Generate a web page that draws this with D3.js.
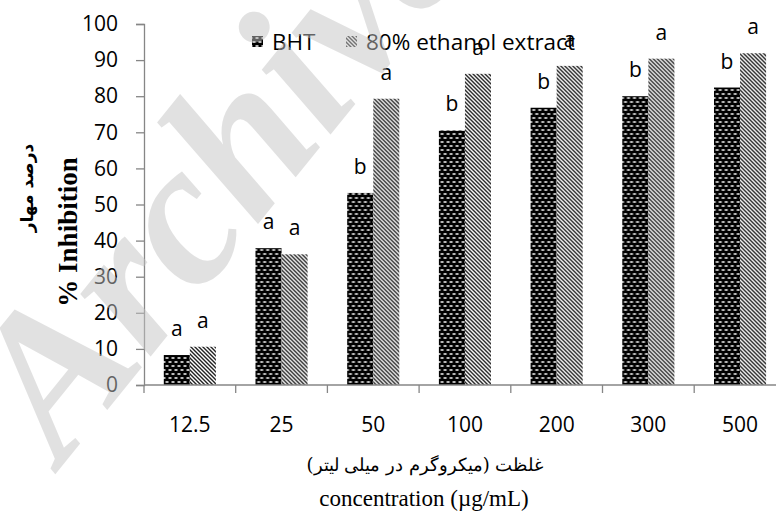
<!DOCTYPE html>
<html>
<head>
<meta charset="utf-8">
<script src="https://cdn.jsdelivr.net/npm/d3@7"></script>
<style>
  body { margin: 0; background: #fff; }
  text { font-family: "Open Sans", sans-serif; }
</style>
</head>
<body>
<script>
const concentrations = ["12.5", "25", "50", "100", "200", "300", "500"];
const seriesNames = ["BHT", "80% ethanol extract"];
const bhtValues = [8.3, 37.9, 53.2, 70.5, 76.8, 80.0, 82.4];
const ethanolValues = [10.6, 36.2, 79.3, 86.2, 88.4, 90.4, 91.9];
const bhtLetters = ["a", "a", "b", "b", "b", "b", "b"];
const ethanolLetters = ["a", "a", "a", "a", "a", "a", "a"];
const yTicks = [0, 10, 20, 30, 40, 50, 60, 70, 80, 90, 100];

const width = 776, height = 512;
const axisColor = "#868686";

const svg = d3.select("body").append("svg")
    .attr("width", width)
    .attr("height", height);

const defs = svg.append("defs");

// BHT: black with small white dashes (brick layout)
const pBht = defs.append("pattern")
    .attr("id", "pat-bht")
    .attr("patternUnits", "userSpaceOnUse")
    .attr("width", 6).attr("height", 8);
pBht.append("rect").attr("width", 6).attr("height", 8).attr("fill", "#000");
pBht.append("rect").attr("x", 0.5).attr("y", 1.2).attr("width", 3).attr("height", 1.6).attr("fill", "#e8e8e8");
pBht.append("rect").attr("x", 3.5).attr("y", 5.2).attr("width", 3).attr("height", 1.6).attr("fill", "#e8e8e8");
pBht.append("rect").attr("x", -2.5).attr("y", 5.2).attr("width", 3).attr("height", 1.6).attr("fill", "#e8e8e8");

// ethanol extract: wide downward diagonal
const pEth = defs.append("pattern")
    .attr("id", "pat-eth")
    .attr("patternUnits", "userSpaceOnUse")
    .attr("width", 4).attr("height", 4);
pEth.append("rect").attr("width", 4).attr("height", 4).attr("fill", "#fff");
pEth.append("path")
    .attr("d", "M-1,-1 L5,5 M-1,3 L1,5 M3,-1 L5,1")
    .attr("stroke", "#222").attr("stroke-width", 1.4);

const fills = ["url(#pat-bht)", "url(#pat-eth)"];

const x0 = d3.scaleBand()
    .domain(concentrations)
    .range([144, 144 + 7 * 91.7]);

const x1 = d3.scaleBand()
    .domain(seriesNames)
    .range([0, x0.bandwidth()])
    .paddingInner(0)
    .paddingOuter(0.76);

const y = d3.scaleLinear()
    .domain([0, 100])
    .range([385, 24]);

const rows = concentrations.map((c, i) => ({
    conc: c,
    vals: [
        { key: seriesNames[0], value: bhtValues[i], letter: bhtLetters[i] },
        { key: seriesNames[1], value: ethanolValues[i], letter: ethanolLetters[i] }
    ]
}));

// y axis
const yAxis = svg.append("g")
    .attr("transform", "translate(144,0)")
    .call(d3.axisLeft(y).tickValues(yTicks).tickSize(8).tickPadding(18));
yAxis.select(".domain").attr("stroke", axisColor).attr("stroke-width", 1.3);
yAxis.selectAll(".tick line").attr("stroke", axisColor).attr("stroke-width", 1.3);
yAxis.selectAll(".tick text")
    .attr("fill", "#000")
    .style("font-family", "'Open Sans', sans-serif")
    .style("font-size", "21px");

// bars
const groups = svg.append("g").selectAll("g")
    .data(rows)
    .join("g")
    .attr("transform", d => `translate(${x0(d.conc)},0)`);

groups.selectAll("rect")
    .data(d => d.vals)
    .join("rect")
    .attr("x", d => x1(d.key))
    .attr("y", d => y(d.value))
    .attr("width", x1.bandwidth())
    .attr("height", d => y(0) - y(d.value))
    .attr("fill", (d, i) => fills[i]);

groups.selectAll("text.letter")
    .data(d => d.vals)
    .join("text")
    .attr("class", "letter")
    .attr("x", d => x1(d.key) + x1.bandwidth() / 2)
    .attr("y", d => y(d.value) - 19)
    .attr("text-anchor", "middle")
    .style("font-size", "21px")
    .text(d => d.letter);

// x axis
svg.append("line")
    .attr("x1", 144).attr("x2", width)
    .attr("y1", y(0)).attr("y2", y(0))
    .attr("stroke", axisColor).attr("stroke-width", 1.3);

svg.append("g").selectAll("line")
    .data(concentrations)
    .join("line")
    .attr("x1", d => x0(d)).attr("x2", d => x0(d))
    .attr("y1", y(0)).attr("y2", y(0) + 8)
    .attr("stroke", axisColor).attr("stroke-width", 1.3);

svg.append("g").selectAll("text")
    .data(concentrations)
    .join("text")
    .attr("x", d => x0(d) + x0.bandwidth() / 2)
    .attr("y", 432)
    .attr("text-anchor", "middle")
    .style("font-size", "21px")
    .text(d => d);

// axis titles
svg.append("text")
    .attr("x", 425).attr("y", 471)
    .attr("text-anchor", "middle")
    .attr("direction", "rtl")
    .style("font-family", "'DejaVu Serif', 'Noto Sans', serif")
    .style("font-size", "18px")
    .text("غلظت (میکروگرم در میلی لیتر)");

svg.append("text")
    .attr("x", 424).attr("y", 506)
    .attr("text-anchor", "middle")
    .style("font-family", "'Liberation Serif', serif")
    .style("font-size", "23px")
    .text("concentration (µg/mL)");

svg.append("text")
    .attr("transform", "translate(77,232) rotate(-90)")
    .attr("text-anchor", "middle")
    .style("font-family", "'Liberation Serif', serif")
    .style("font-weight", "bold")
    .style("font-size", "27px")
    .text("% Inhibition");

svg.append("text")
    .attr("transform", "translate(33,188) rotate(-90)")
    .attr("text-anchor", "middle")
    .attr("direction", "rtl")
    .style("font-family", "'DejaVu Sans', 'Noto Sans', sans-serif")
    .style("font-weight", "bold")
    .style("font-size", "17px")
    .text("درصد مهار");

// legend
const legend = svg.append("g");
const legendX = [252, 346];
seriesNames.forEach((name, i) => {
    legend.append("rect")
        .attr("x", legendX[i]).attr("y", 36)
        .attr("width", 11).attr("height", 11)
        .attr("fill", fills[i]);
    legend.append("text")
        .attr("x", legendX[i] + 20).attr("y", 50)
        .style("font-size", "22.5px")
        .text(name);
});

// watermark
svg.append("text")
    .attr("transform", "translate(62,466) rotate(-51)")
    .style("font-family", "'Liberation Serif', serif")
    .style("font-style", "italic")
    .style("font-weight", "bold")
    .style("font-size", "205px")
    .attr("fill", "#c4c4c4")
    .attr("opacity", 0.5)
    .text("Archive");
</script>
</body>
</html>
